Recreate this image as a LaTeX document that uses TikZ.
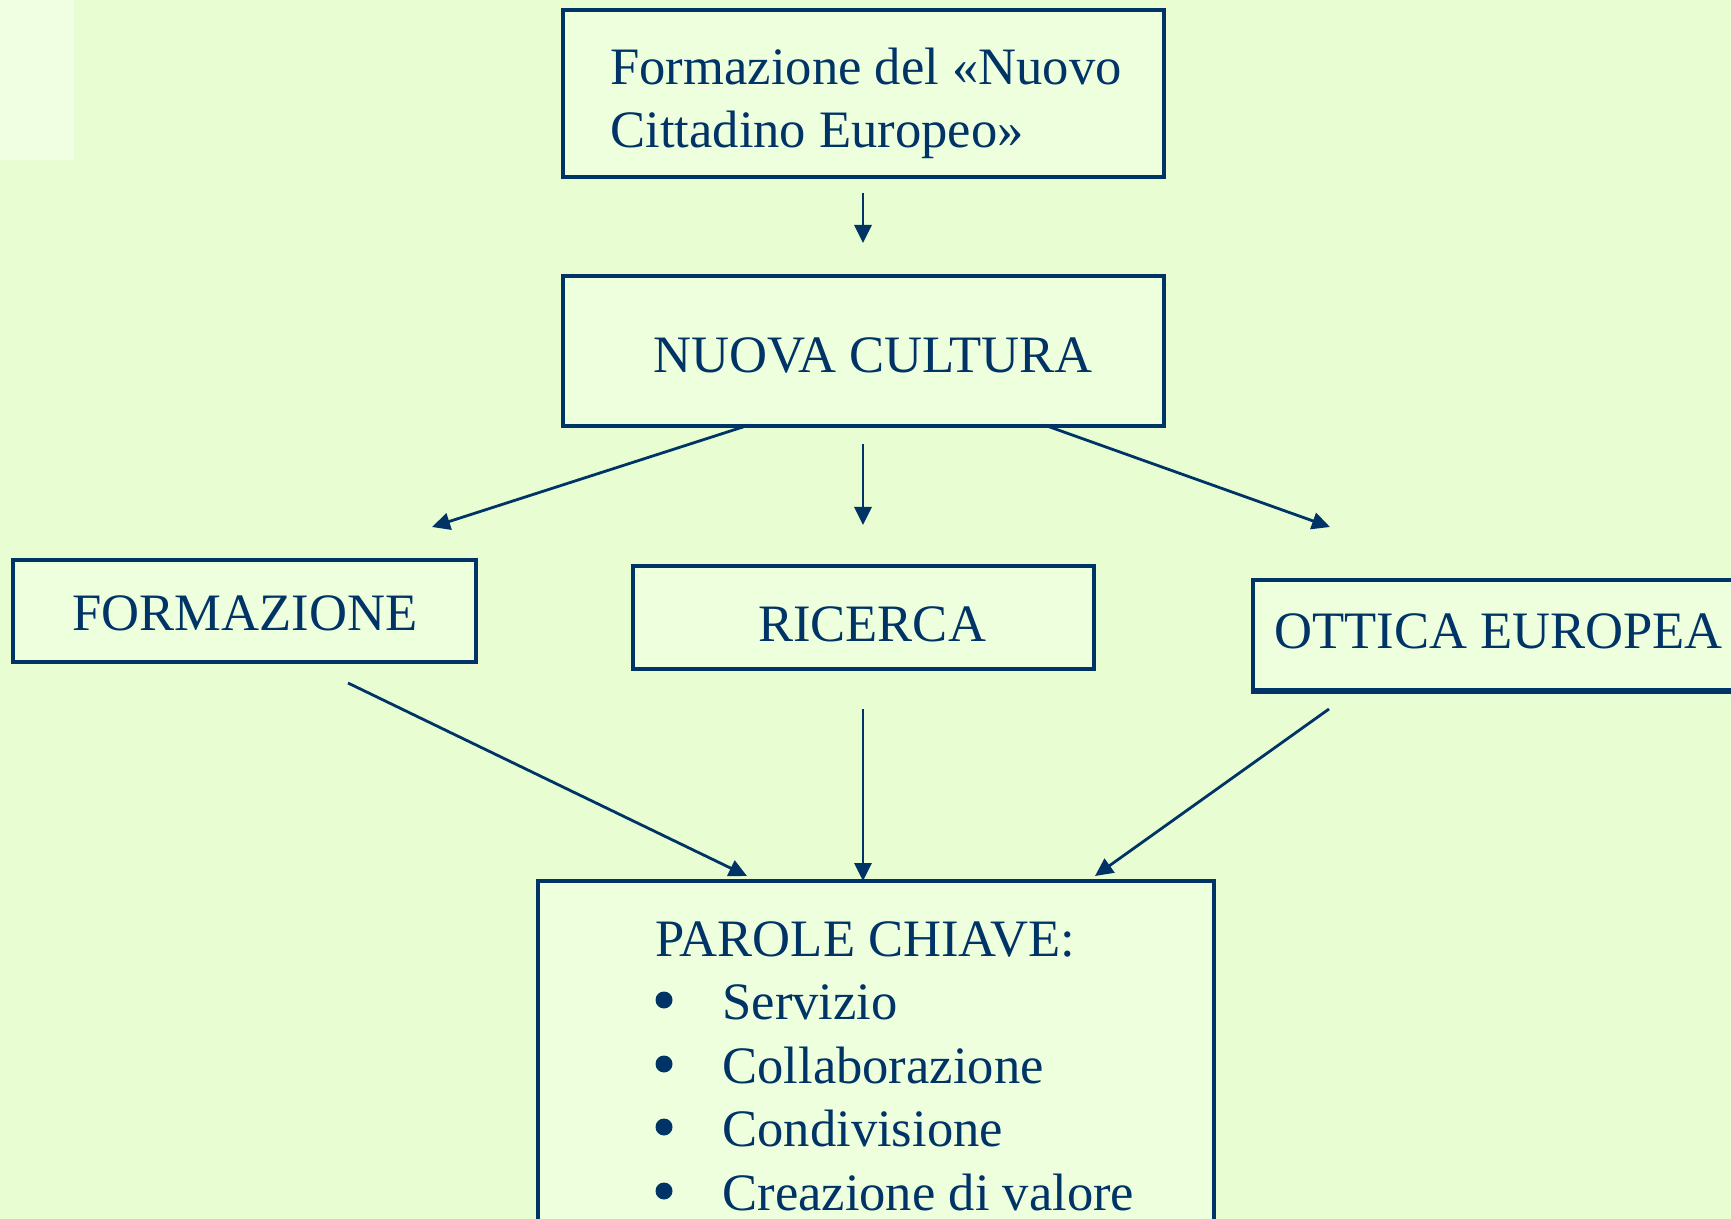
\documentclass[tikz,border=0pt]{standalone}
\usepackage{fontspec}
\setmainfont{Liberation Serif}
\usetikzlibrary{arrows.meta}
\definecolor{bg}{RGB}{232,253,210}
\definecolor{boxfill}{RGB}{238,255,222}
\definecolor{corner}{RGB}{240,255,225}
\definecolor{ink}{RGB}{0,51,102}
\begin{document}
\begin{tikzpicture}[x=0.5pt,y=-0.5pt,
  box/.style={draw=ink, fill=boxfill, line width=1.7pt, inner sep=0pt},
  lbl/.style={text=ink, font=\fontsize{26.3}{31.5}\selectfont, inner sep=0pt},
  dot/.style={circle, fill=ink, inner sep=0pt, minimum size=8.5pt},
  conn/.style={draw=ink, line width=1.4pt, -{Triangle[length=9pt,width=8.5pt]}}]
\fill[bg] (0,0) rectangle (1731,1219);
\useasboundingbox (0,0) rectangle (1731,1219);
\clip (0,0) rectangle (1731,1219);
\fill[corner] (0,0) rectangle (74,160);
% boxes
\node[box, minimum width=300.5pt, minimum height=83.5pt] (top) at (863.5,93.5) {};
\node[box, minimum width=300.5pt, minimum height=75pt] (cult) at (863.5,351) {};
\node[box, minimum width=231.5pt, minimum height=51pt] (form) at (244.5,611) {};
\node[box, minimum width=230.5pt, minimum height=51.5pt] (ric) at (863.5,617.5) {};
\node[box, minimum width=263.5pt, minimum height=55pt] (ott) at (1516.5,635) {};
\draw[ink, line width=2.6pt] (ott.south west) -- (ott.south east);
\node[box, minimum width=338pt, minimum height=189.5pt] (key) at (876,1070.5) {};
% texts
\node[lbl, anchor=base west] (t1) at (610,85) {Formazione del «Nuovo};
\node[lbl, anchor=base west] (t2) at (610,148) {Cittadino Europeo»};
\node[lbl, anchor=base] (tc) at (873,373) {NUOVA CULTURA};
\node[lbl, anchor=base] (tf) at (245,631) {FORMAZIONE};
\node[lbl, anchor=base] (tr) at (872,642) {RICERCA};
\node[lbl, anchor=base west] (to) at (1274,648) {OTTICA EUROPEA};
\node[lbl, anchor=base west] (tk) at (655,956) {PAROLE CHIAVE:};
\node[dot] (b1) at (664,1000) {};
\node[dot] (b2) at (664,1064) {};
\node[dot] (b3) at (664,1127) {};
\node[dot] (b4) at (664,1191) {};
\node[lbl, anchor=base west] (i1) at (722,1019) {Servizio};
\node[lbl, anchor=base west] (i2) at (722,1083) {Collaborazione};
\node[lbl, anchor=base west] (i3) at (722,1146) {Condivisione};
\node[lbl, anchor=base west] (i4) at (722,1210) {Creazione di valore};
% connector end points
\coordinate (a1s) at (863,193);
\coordinate (a1e) at (863,243);
\coordinate (cl) at (746,426);
\coordinate (clE) at (432,527);
\coordinate (cm) at (863,444);
\coordinate (cmE) at (863,525);
\coordinate (cr) at (1047,426);
\coordinate (crE) at (1330,527);
\coordinate (fs) at (348,683);
\coordinate (fE) at (747,876);
\coordinate (rs) at (863,709);
\coordinate (rE) at (863,881);
\coordinate (os) at (1329,709);
\coordinate (oE) at (1095,876);
% connectors
\draw[conn] (a1s) -- (a1e);
\draw[conn] (cl) -- (clE);
\draw[conn] (cm) -- (cmE);
\draw[conn] (cr) -- (crE);
\draw[conn] (fs) -- (fE);
\draw[conn] (rs) -- (rE);
\draw[conn] (os) -- (oE);
\end{tikzpicture}
\end{document}
